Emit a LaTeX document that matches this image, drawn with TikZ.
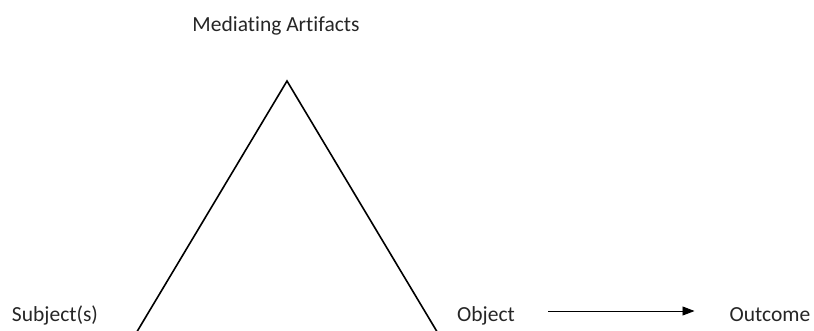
\documentclass[tikz,border=0pt]{standalone}
\usepackage{fontspec}
\setmainfont{Carlito}[Ligatures={NoCommon}]
\usetikzlibrary{arrows.meta}
\definecolor{txt}{HTML}{262626}
\begin{document}
\begin{tikzpicture}[x=1pt,y=-1pt,
  lbl/.style={font=\fontsize{21.5}{24}\selectfont,text=txt,inner sep=0pt,anchor=base},
  side/.style={line width=1.6pt,black},
  flow/.style={line width=0.9pt,black,-{Triangle[length=12pt,width=9pt]}}]
\useasboundingbox (0,0) rectangle (814,330);
\clip (0,0) rectangle (814,330);
\node[lbl] (med) at (276,31) {Mediating Artifacts};
\node[lbl] (subj) at (55,321) {Subject(s)};
\node[lbl] (obj) at (486,321) {Object};
\node[lbl] (out) at (770,321) {Outcome};
\coordinate (apex) at (287,81);
\coordinate (bl) at (132,340);
\coordinate (br) at (442,340);
\draw[side] (bl) -- (apex) -- (br);
\draw[flow] ([xshift=33pt,yshift=10pt]obj.base east) -- ([xshift=-35pt,yshift=10pt]out.base west);
\end{tikzpicture}
\end{document}
